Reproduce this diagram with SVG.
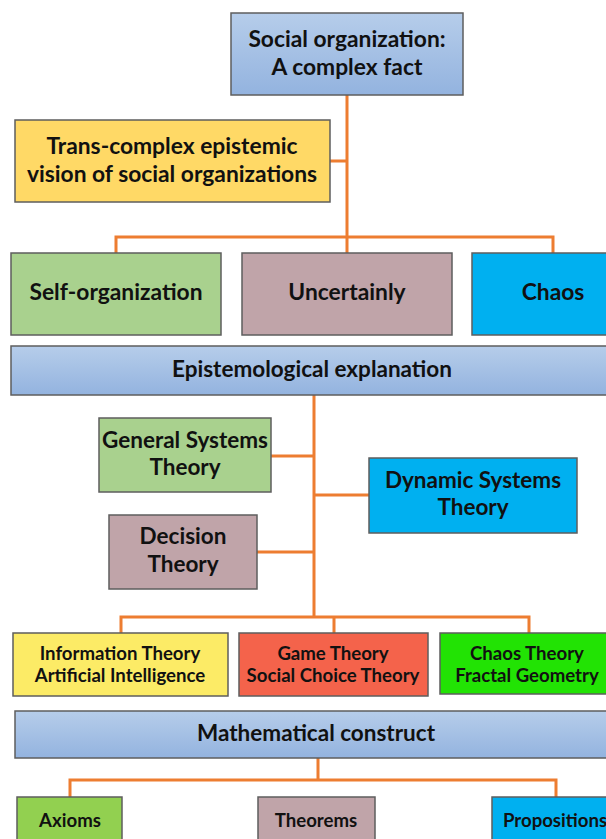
<svg xmlns="http://www.w3.org/2000/svg" width="606" height="839" viewBox="0 0 606 839">
<defs>
<linearGradient id="blue" x1="0" y1="0" x2="0" y2="1">
<stop offset="0" stop-color="#b6cdea"/>
<stop offset="1" stop-color="#93b3df"/>
</linearGradient>
</defs>
<style>
.box{stroke:#5e5e5e;stroke-width:1.5}
.bl{fill:url(#blue)}
.t{font-family:Lato,"Open Sans","Liberation Sans",sans-serif;font-weight:bold;fill:#111;text-anchor:middle}
.f21{font-size:22.8px}
.f20{font-size:22.5px}
.f16{font-size:18.6px}
.c{fill:none;stroke:#ed7d31;stroke-width:3}
</style>
<rect width="606" height="839" fill="#ffffff"/>
<g id="connectors">
<path class="c" d="M347 95 V253 M330 161 H347 M116 253 V237 H553 V253"/>
<path class="c" d="M314 395 V617 M271 456 H314 M314 495 H369 M257 552 H314 M121 633 V617 H529 V633 M334 617 V633"/>
<path class="c" d="M318 758 V780 M70 797 V780 H556 V797"/>
</g>
<g id="social-organization">
<rect class="box bl" x="231" y="13" width="232" height="82"/>
<text class="t f21" x="347" y="47">Social organization:</text>
<text class="t f21" x="347" y="75">A complex fact</text>
</g>
<g id="trans-complex">
<rect class="box" fill="#ffd966" x="15" y="120" width="315" height="82"/>
<text class="t f21" x="172" y="154">Trans-complex epistemic</text>
<text class="t f21" x="172" y="182">vision of social organizations</text>
</g>
<g id="self-organization">
<rect class="box" fill="#a9d18e" x="11" y="253" width="210" height="82"/>
<text class="t f21" x="116" y="300">Self-organization</text>
</g>
<g id="uncertainly">
<rect class="box" fill="#c0a4a9" x="242" y="253" width="210" height="82"/>
<text class="t f21" x="347" y="300">Uncertainly</text>
</g>
<g id="chaos">
<rect class="box" fill="#00b0f0" x="472" y="253" width="140" height="82"/>
<text class="t f21" x="553" y="300">Chaos</text>
</g>
<g id="epistemological-explanation">
<rect class="box bl" x="11" y="346" width="601" height="49"/>
<text class="t f20" x="312" y="377">Epistemological explanation</text>
</g>
<g id="general-systems-theory">
<rect class="box" fill="#a9d18e" x="99" y="418" width="172" height="74"/>
<text class="t f20" x="185" y="448">General Systems</text>
<text class="t f20" x="185" y="475">Theory</text>
</g>
<g id="dynamic-systems-theory">
<rect class="box" fill="#00b0f0" x="369" y="458" width="208" height="75"/>
<text class="t f20" x="473" y="488">Dynamic Systems</text>
<text class="t f20" x="473" y="515">Theory</text>
</g>
<g id="decision-theory">
<rect class="box" fill="#c0a4a9" x="109" y="515" width="148" height="74"/>
<text class="t f20" x="183" y="544">Decision</text>
<text class="t f20" x="183" y="572">Theory</text>
</g>
<g id="information-theory">
<rect class="box" fill="#fceb66" x="13" y="633" width="215" height="63"/>
<text class="t f16" x="120" y="660">Information Theory</text>
<text class="t f16" x="120" y="682">Artificial Intelligence</text>
</g>
<g id="game-theory">
<rect class="box" fill="#f4634b" x="239" y="633" width="189" height="63"/>
<text class="t f16" x="333" y="660">Game Theory</text>
<text class="t f16" x="333" y="682">Social Choice Theory</text>
</g>
<g id="chaos-theory">
<rect class="box" fill="#22e304" x="440" y="633" width="172" height="61"/>
<text class="t f16" x="527" y="660">Chaos Theory</text>
<text class="t f16" x="527" y="682">Fractal Geometry</text>
</g>
<g id="mathematical-construct">
<rect class="box bl" x="15" y="711" width="597" height="47"/>
<text class="t f20" x="316" y="741">Mathematical construct</text>
</g>
<g id="axioms">
<rect class="box" fill="#92d050" x="17" y="797" width="105" height="50"/>
<text class="t f16" x="70" y="827">Axioms</text>
</g>
<g id="theorems">
<rect class="box" fill="#c0a4a9" x="258" y="797" width="117" height="50"/>
<text class="t f16" x="316" y="827">Theorems</text>
</g>
<g id="propositions">
<rect class="box" fill="#00b0f0" x="492" y="797" width="120" height="50"/>
<text class="t f16" x="555" y="827">Propositions</text>
</g>
</svg>
